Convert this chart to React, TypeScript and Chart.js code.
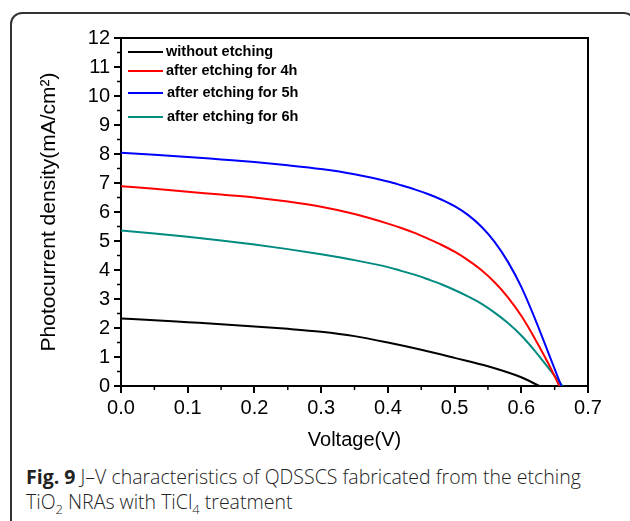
import React, { useEffect, useRef } from "react";
import { Chart, registerables } from "chart.js";

Chart.register(...registerables);

const seriesLabels = [
  "without etching",
  "after etching for 4h",
  "after etching for 5h",
  "after etching for 6h",
];
const seriesColors = ["#000000", "#ff0000", "#0000ff", "#008b80"];

const blackV = [0, 0.05, 0.1, 0.15, 0.2, 0.25, 0.3, 0.35, 0.4, 0.45, 0.5, 0.55, 0.6, 0.627];
const blackJ = [2.33, 2.27, 2.2, 2.13, 2.05, 1.97, 1.87, 1.72, 1.5, 1.25, 0.97, 0.68, 0.3, 0];

const redV = [0, 0.05, 0.1, 0.15, 0.2, 0.25, 0.3, 0.35, 0.4, 0.42, 0.44, 0.46, 0.48, 0.5, 0.52, 0.54, 0.56, 0.58, 0.6, 0.62, 0.64, 0.657];
const redJ = [6.89, 6.8, 6.7, 6.6, 6.5, 6.36, 6.18, 5.93, 5.6, 5.45, 5.28, 5.08, 4.87, 4.63, 4.34, 4.0, 3.58, 3.06, 2.42, 1.65, 0.8, 0];

const blueV = [0, 0.05, 0.1, 0.15, 0.2, 0.25, 0.3, 0.35, 0.4, 0.42, 0.44, 0.46, 0.48, 0.5, 0.52, 0.54, 0.56, 0.58, 0.6, 0.62, 0.64, 0.66];
const blueJ = [8.04, 7.97, 7.9, 7.81, 7.72, 7.61, 7.48, 7.3, 7.05, 6.92, 6.78, 6.62, 6.43, 6.2, 5.9, 5.5, 4.97, 4.28, 3.42, 2.35, 1.18, 0];

const tealV = [0, 0.05, 0.1, 0.15, 0.2, 0.25, 0.3, 0.35, 0.4, 0.42, 0.44, 0.46, 0.48, 0.5, 0.52, 0.54, 0.56, 0.58, 0.6, 0.62, 0.64, 0.662];
const tealJ = [5.36, 5.26, 5.15, 5.02, 4.88, 4.72, 4.54, 4.34, 4.1, 3.97, 3.84, 3.68, 3.51, 3.31, 3.09, 2.84, 2.53, 2.17, 1.74, 1.22, 0.64, 0];

const xMin = 0;
const xMax = 0.7;
const xStep = 0.1;
const yMin = 0;
const yMax = 12;
const yStep = 1;

const xTitle = "Voltage(V)";
const yTitle = "Photocurrent density(mA/cm²)";

const toPoints = (vs: number[], js: number[]) => vs.map((v, i) => ({ x: v, y: js[i] }));

const minorTicksPlugin = {
  id: "minorTicksAndFrame",
  afterDraw(chart: any) {
    const { ctx, chartArea } = chart;
    const xs = chart.scales.x;
    const ys = chart.scales.y;
    ctx.save();
    ctx.strokeStyle = "#000";
    ctx.lineWidth = 2;
    ctx.beginPath();
    ctx.moveTo(chartArea.left, chartArea.top);
    ctx.lineTo(chartArea.right, chartArea.top);
    ctx.lineTo(chartArea.right, chartArea.bottom);
    ctx.stroke();
    ctx.lineWidth = 1.5;
    ctx.beginPath();
    for (let v = xMin + xStep / 2; v < xMax; v += xStep) {
      const px = xs.getPixelForValue(v);
      ctx.moveTo(px, chartArea.bottom);
      ctx.lineTo(px, chartArea.bottom + 4);
    }
    for (let v = yMin + yStep / 2; v < yMax; v += yStep) {
      const py = ys.getPixelForValue(v);
      ctx.moveTo(chartArea.left, py);
      ctx.lineTo(chartArea.left - 4, py);
    }
    ctx.stroke();
    ctx.restore();
  },
};

const insideLegendPlugin = {
  id: "insideLegend",
  afterDatasetsDraw(chart: any) {
    const { ctx, chartArea } = chart;
    const rows = [14, 33, 55, 79];
    ctx.save();
    ctx.font = "bold 14.5px 'Liberation Sans', Arial, sans-serif";
    ctx.textBaseline = "middle";
    ctx.textAlign = "left";
    chart.data.datasets.forEach((ds: any, i: number) => {
      const y = chartArea.top + rows[i];
      const x0 = chartArea.left + 7;
      ctx.strokeStyle = ds.borderColor;
      ctx.lineWidth = 2;
      ctx.beginPath();
      ctx.moveTo(x0, y);
      ctx.lineTo(x0 + 35, y);
      ctx.stroke();
      ctx.fillStyle = "#000";
      ctx.fillText(ds.label, x0 + 38 + (i >= 2 ? 1 : 0), y);
    });
    ctx.restore();
  },
};

export default function App() {
  const ref = useRef<HTMLCanvasElement | null>(null);

  useEffect(() => {
    if (!ref.current) return;
    const vs = [blackV, redV, blueV, tealV];
    const js = [blackJ, redJ, blueJ, tealJ];
    const chart = new Chart(ref.current, {
      type: "line",
      data: {
        datasets: seriesLabels.map((label, i) => ({
          label,
          data: toPoints(vs[i], js[i]),
          borderColor: seriesColors[i],
          backgroundColor: seriesColors[i],
          borderWidth: 2,
          pointRadius: 0,
          cubicInterpolationMode: "monotone" as const,
          fill: false,
        })),
      },
      options: {
        animation: false,
        responsive: false,
        maintainAspectRatio: false,
        layout: { padding: { top: 38, right: 42, left: 0, bottom: 0 } },
        plugins: {
          legend: { display: false },
          tooltip: { enabled: false },
        },
        scales: {
          x: {
            type: "linear",
            min: xMin,
            max: xMax,
            afterFit: (s: any) => {
              s.height = 74;
            },
            ticks: {
              stepSize: xStep,
              color: "#000",
              padding: 3,
              maxRotation: 0,
              font: { size: 20, family: "'Liberation Sans', Arial, sans-serif" },
              callback: (v: any) => Number(v).toFixed(1),
            },
            grid: {
              drawOnChartArea: false,
              drawTicks: true,
              tickLength: 7,
              color: "#000",
              lineWidth: 2,
            },
            border: { display: true, color: "#000", width: 2 },
            title: {
              display: true,
              text: xTitle,
              color: "#000",
              font: { size: 20, family: "'Liberation Sans', Arial, sans-serif" },
              padding: { top: 0, bottom: 8 },
            },
          },
          y: {
            type: "linear",
            min: yMin,
            max: yMax,
            afterFit: (s: any) => {
              s.width = 121;
            },
            ticks: {
              stepSize: yStep,
              color: "#000",
              padding: 4,
              font: { size: 20, family: "'Liberation Sans', Arial, sans-serif" },
            },
            grid: {
              drawOnChartArea: false,
              drawTicks: true,
              tickLength: 7,
              color: "#000",
              lineWidth: 2,
            },
            border: { display: true, color: "#000", width: 2 },
            title: {
              display: true,
              text: yTitle,
              color: "#000",
              font: { size: 21, family: "'Liberation Sans', Arial, sans-serif" },
              padding: { top: 37, bottom: 0 },
            },
          },
        },
      },
      plugins: [minorTicksPlugin, insideLegendPlugin],
    });
    return () => chart.destroy();
  }, []);

  return (
    <div
      style={{
        position: "fixed",
        left: 0,
        top: 0,
        width: 630,
        height: 521,
        overflow: "hidden",
        background: "#fff",
      }}
    >
      <div
        style={{
          position: "absolute",
          left: 10,
          top: 12,
          width: 626,
          height: 540,
          border: "2px solid #333",
          borderRadius: 12,
          boxSizing: "border-box",
        }}
      />
      <canvas
        ref={ref}
        width={630}
        height={460}
        style={{ position: "absolute", left: 0, top: 0, width: 630, height: 460 }}
      />
      <div
        style={{
          position: "absolute",
          left: 26,
          top: 464,
          fontFamily: "'Open Sans', sans-serif",
          fontWeight: 300,
          fontSize: 19.5,
          lineHeight: "25px",
          color: "#222",
          whiteSpace: "nowrap",
        }}
      >
        <div>
          <b style={{ fontWeight: 700 }}>Fig. 9</b> J–V characteristics of QDSSCS fabricated from the etching
        </div>
        <div>
          TiO<sub style={{ fontSize: 13, lineHeight: 0 }}>2</sub> NRAs with TiCl<sub style={{ fontSize: 13, lineHeight: 0 }}>4</sub> treatment
        </div>
      </div>
    </div>
  );
}
